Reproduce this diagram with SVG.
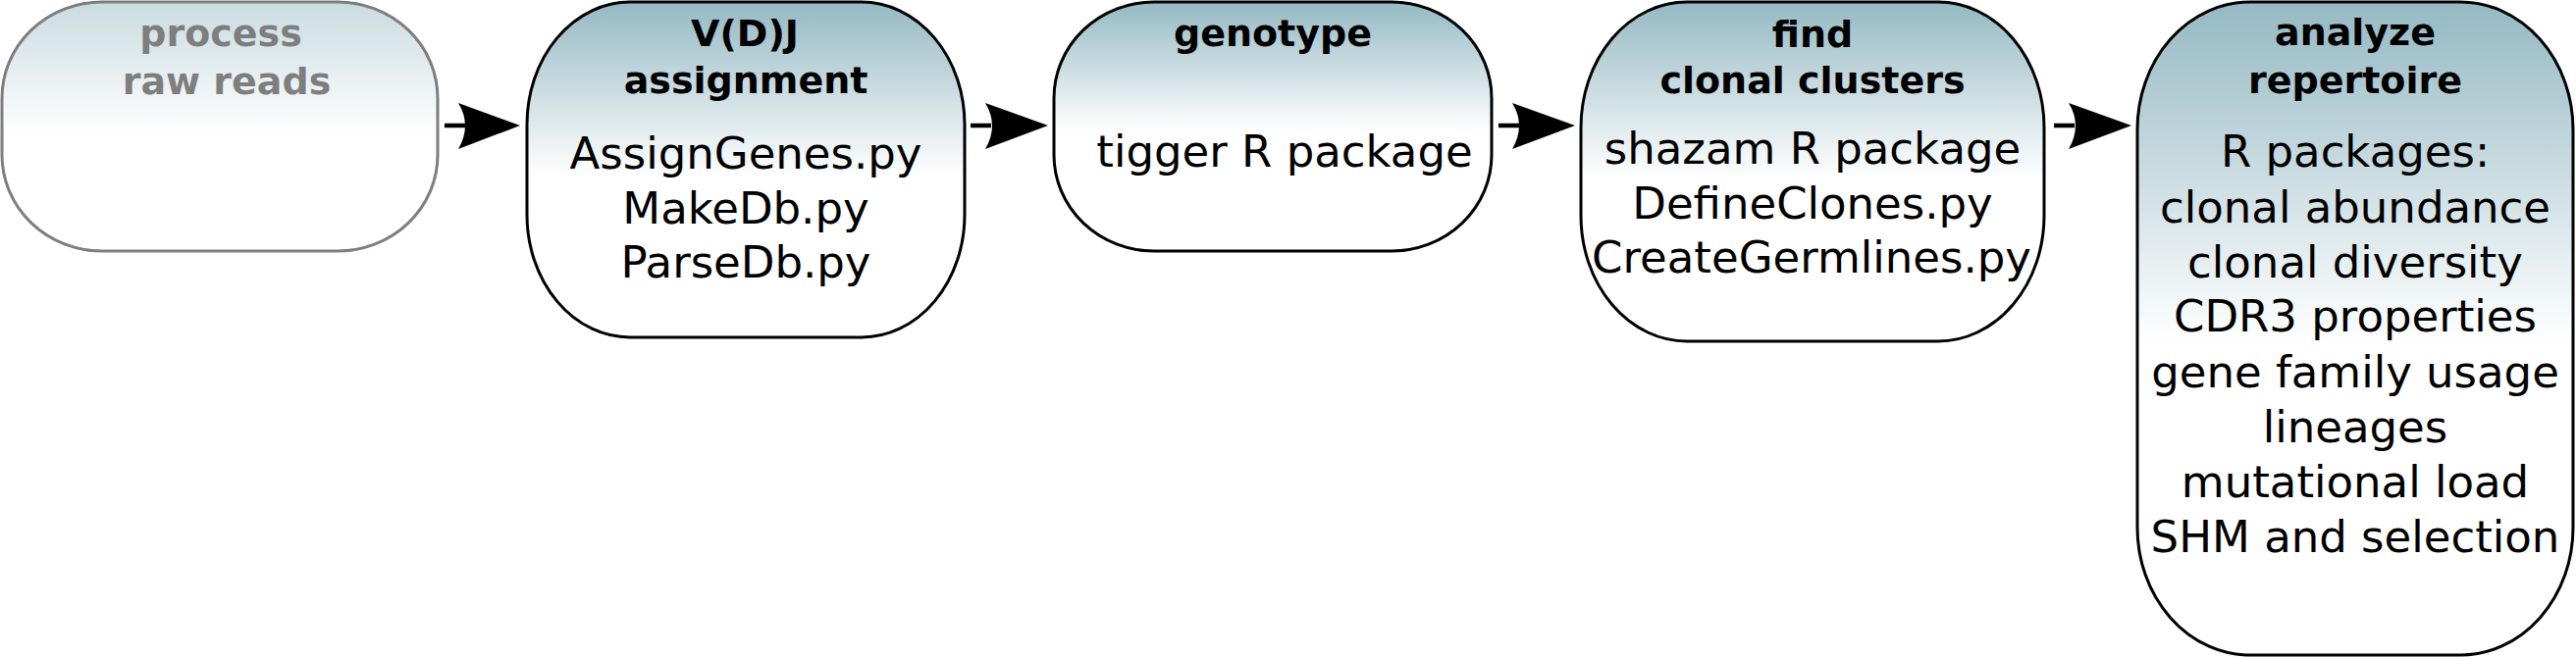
<svg xmlns="http://www.w3.org/2000/svg" width="2625" height="671" viewBox="0 0 2625 671">
<style>
.box{stroke:#000;stroke-width:3;fill:url(#g)}
.t{font-family:"DejaVu Sans",sans-serif;text-anchor:middle;fill:#000}
.b{font-weight:bold;font-size:38px}
.r{font-size:45px}
.ln{stroke:#000;stroke-width:4.5;fill:none}
.hd{fill:#000}
</style>
<defs>
<linearGradient id="g" x1="0" y1="0" x2="0" y2="1">
<stop offset="0" stop-color="#95b9c3"/>
<stop offset="0.52" stop-color="#ffffff"/>
<stop offset="1" stop-color="#ffffff"/>
</linearGradient>
</defs>
<rect width="2625" height="671" fill="#fff"/>
<g id="connectors">
<path class="ln" d="M453,128 H474"/>
<path class="hd" d="M530,128 L467,105 Q481,128 467,152 Z"/>
<path class="ln" d="M989,128 H1010"/>
<path class="hd" d="M1068,128 L1004,105 Q1018,128 1004,152 Z"/>
<path class="ln" d="M1527,128 H1548"/>
<path class="hd" d="M1605,128 L1541,105 Q1555,128 1541,152 Z"/>
<path class="ln" d="M2093,128 H2114"/>
<path class="hd" d="M2172,128 L2108,105 Q2122,128 2108,152 Z"/>
</g>
<g id="process" opacity="0.5">
<rect class="box" x="2" y="2" width="444" height="254" rx="102" ry="98"/>
<text class="t b" x="225" y="47">process</text>
<text class="t b" x="231" y="96">raw reads</text>
</g>
<g id="vdj">
<rect class="box" x="537" y="2" width="446" height="342" rx="105" ry="125"/>
<text class="t b" x="759" y="47">V(D)J</text>
<text class="t b" x="760" y="95">assignment</text>
<text class="t r" x="760" y="172">AssignGenes.py</text>
<text class="t r" x="760" y="228">MakeDb.py</text>
<text class="t r" x="760" y="283">ParseDb.py</text>
</g>
<g id="genotype">
<rect class="box" x="1074" y="2" width="446" height="254" rx="102" ry="98"/>
<text class="t b" x="1297" y="47">genotype</text>
<text class="t r" x="1309" y="170">tigger R package</text>
</g>
<g id="clones">
<rect class="box" x="1611" y="2" width="472" height="346" rx="108" ry="128"/>
<text class="t b" x="1847" y="48">find</text>
<text class="t b" x="1847" y="95">clonal clusters</text>
<text class="t r" x="1847" y="167">shazam R package</text>
<text class="t r" x="1847" y="223">DefineClones.py</text>
<text class="t r" x="1846" y="278">CreateGermlines.py</text>
</g>
<g id="analyze">
<rect class="box" x="2178" y="2" width="444" height="666" rx="115" ry="130"/>
<text class="t b" x="2400" y="46">analyze</text>
<text class="t b" x="2400" y="95">repertoire</text>
<text class="t r" x="2400" y="170">R packages:</text>
<text class="t r" x="2400" y="227">clonal abundance</text>
<text class="t r" x="2400" y="283">clonal diversity</text>
<text class="t r" x="2400" y="338">CDR3 properties</text>
<text class="t r" x="2400" y="395">gene family usage</text>
<text class="t r" x="2400" y="451">lineages</text>
<text class="t r" x="2400" y="507">mutational load</text>
<text class="t r" x="2400" y="563">SHM and selection</text>
</g>
</svg>
